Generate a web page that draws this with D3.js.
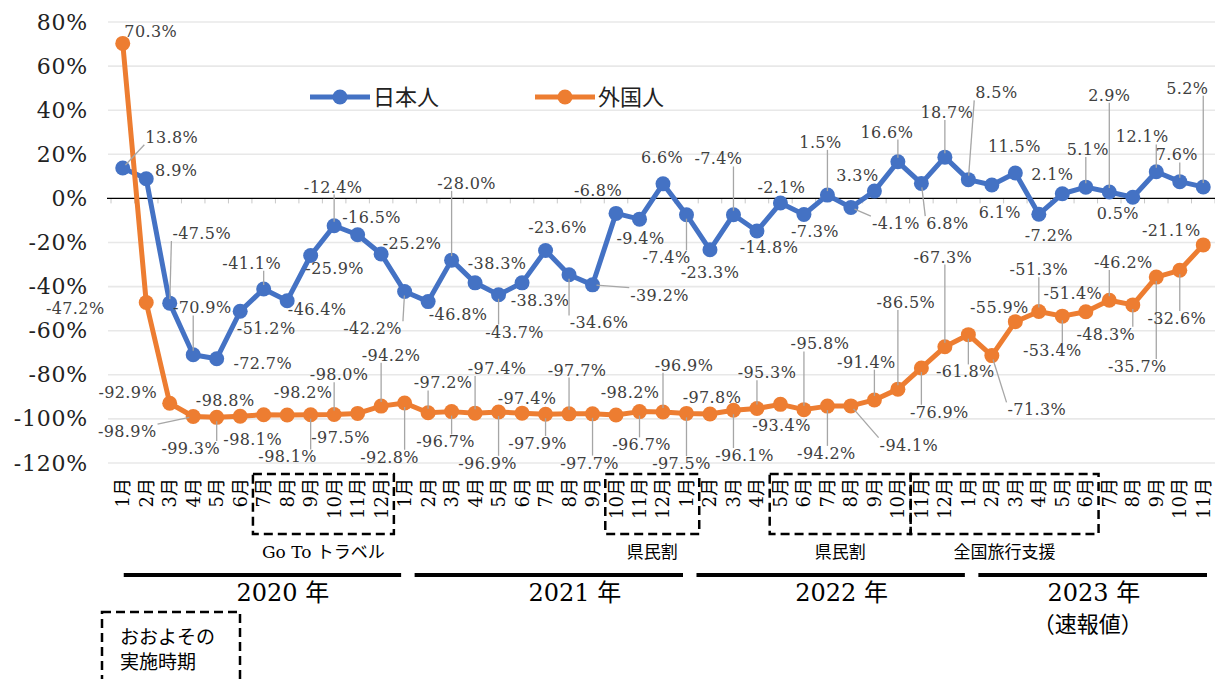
<!DOCTYPE html>
<html>
<head>
<meta charset="utf-8">
<script src="https://cdn.jsdelivr.net/npm/d3@7"></script>
<style>
  body { margin: 0; background: #fff; }
  svg text { font-family: "DejaVu Serif", "Noto Sans CJK JP", serif; }
</style>
</head>
<body>
<script>
// months Jan 2020 .. Nov 2023
var monthLabels = [];
[12, 12, 12, 11].forEach(function(n) {
  for (var m = 1; m <= n; m++) monthLabels.push(m + "月");
});
var years = ["2020 年", "2021 年", "2022 年", "2023 年"];
var yearMonths = [12, 12, 12, 11];

// 日本人 (change vs 2019, %)
var japanese = [13.8, 8.9, -47.5, -70.9, -72.7, -51.2, -41.1, -46.4, -25.9, -12.4, -16.5, -25.2,
  -42.2, -46.8, -28.0, -38.3, -43.7, -38.3, -23.6, -34.6, -39.2, -6.8, -9.4, 6.6,
  -7.4, -23.3, -7.4, -14.8, -2.1, -7.3, 1.5, -4.1, 3.3, 16.6, 6.8, 18.7,
  8.5, 6.1, 11.5, -7.2, 2.1, 5.1, 2.9, 0.5, 12.1, 7.6, 5.2];

// 外国人
var foreign = [70.3, -47.2, -92.9, -98.9, -99.3, -98.8, -98.1, -98.2, -98.1, -98.0, -97.5, -94.2,
  -92.8, -97.2, -96.7, -97.4, -96.9, -97.4, -97.9, -97.7, -97.7, -98.2, -96.7, -96.9,
  -97.5, -97.8, -96.1, -95.3, -93.4, -95.8, -94.2, -94.1, -91.4, -86.5, -76.9, -67.3,
  -61.8, -71.3, -55.9, -51.3, -53.4, -51.4, -46.2, -48.3, -35.7, -32.6, -21.1];

var yTicks = [80, 60, 40, 20, 0, -20, -40, -60, -80, -100, -120];

// campaign periods (first month index, last month index, name)
var campaigns = [
  {from: 6, to: 11, name: "Go To トラベル"},
  {from: 21, to: 24, name: "県民割"},
  {from: 28, to: 33, name: "県民割"},
  {from: 34, to: 41, name: "全国旅行支援"}
];

// label placement (dx, dy from the point, leader line yes/no)
var jpLabelPos = [[49,-31,1],[30,-9,0],[32,-70,1],[9,-47,1],[46,5,0],[26,17,0],[-12,-26,1],[30,9,0],[24,13,0],[-1,-39,1],[14,-18,0],[31,-11,0],
  [-32,37,1],[30,13,0],[15,-77,1],[22,-20,0],[16,37,1],[18,17,0],[12,-23,0],[30,48,1],[67,10,1],[-18,-23,0],[1,19,0],[-1,-27,0],
  [-20,43,1],[0,22,0],[-15,-56,1],[12,16,0],[1,-16,0],[11,17,0],[-7,-53,1],[45,16,1],[-17,-16,0],[-11,-30,1],[26,40,1],[2,-45,1],
  [28,-87,1],[8,27,0],[-1,-27,0],[10,21,0],[-10,-20,0],[2,-38,1],[0,-97,1],[-15,16,0],[-14,-35,1],[-3,-27,1],[-16,-99,1]];
var fgLabelPos = [[28,-12,0],[-71,6,0],[-42,-11,0],[-66,15,1],[-26,31,1],[-15,-16,0],[-11,25,0],[16,-23,0],[-23,42,1],[5,-40,1],[-17,24,0],[10,-51,1],
  [-15,54,1],[15,-30,1],[-6,30,1],[22,-45,1],[-11,51,1],[5,-15,0],[-8,29,1],[8,-44,1],[-3,49,1],[14,-23,0],[2,33,1],[21,-47,1],
  [-5,50,1],[2,-17,0],[11,45,1],[10,-36,1],[1,21,0],[16,-66,1],[-1,47,1],[58,39,1],[-8,-38,1],[8,-87,1],[18,44,1],[-2,-90,1],
  [-3,37,1],[45,54,1],[-16,-14,0],[0,-42,1],[-10,34,1],[-13,-18,0],[14,-38,1],[-27,29,1],[-19,89,1],[-3,48,1],[-32,-15,0]];

var W = 1215, H = 679;
var svg = d3.select("body").append("svg").attr("width", W).attr("height", H);

var x = d3.scaleBand().domain(d3.range(japanese.length)).range([111, 1215]);
var step = x.step();
var cx = function(i) { return x(i) + x.bandwidth() / 2; };
var y = d3.scaleLinear().domain([-120, 80]).range([463, 22]);

// gridlines
svg.append("g").selectAll("line").data(yTicks.filter(function(d) { return d !== 0; }))
  .enter().append("line")
  .attr("x1", 108).attr("x2", W)
  .attr("y1", function(d) { return y(d); }).attr("y2", function(d) { return y(d); })
  .attr("stroke", "#e8e8e8").attr("stroke-width", 1.6);

// y axis labels
var yAxis = svg.append("g").attr("transform", "translate(111,0)")
  .call(d3.axisLeft(y).tickValues(yTicks).tickFormat(function(d) { return d + "%"; }).tickSize(0).tickPadding(23));
yAxis.select(".domain").remove();
yAxis.selectAll("text").style("font-size", "22px").attr("fill", "#222").style("letter-spacing", "0.8px");

// zero line with boundary ticks
var zero = svg.append("g");
zero.selectAll("line.tk").data(d3.range(japanese.length + 1)).enter().append("line")
  .attr("class", "tk")
  .attr("x1", function(i) { return 111 + i * step; }).attr("x2", function(i) { return 111 + i * step; })
  .attr("y1", y(0)).attr("y2", y(0) + 5)
  .attr("stroke", "#c8c8c8").attr("stroke-width", 1);
zero.append("line").attr("x1", 107).attr("x2", W).attr("y1", y(0)).attr("y2", y(0))
  .attr("stroke", "#000").attr("stroke-width", 1.2);

// month labels (vertical)
var xAxis = svg.append("g").attr("transform", "translate(0,476)")
  .call(d3.axisBottom(x).tickSize(0).tickFormat(function(i) { return monthLabels[i]; }));
xAxis.select(".domain").remove();
xAxis.selectAll("text")
  .attr("x", -2).attr("y", 0).attr("dy", "0.36em")
  .attr("transform", "rotate(-90)")
  .style("text-anchor", "end").style("font-size", "18px").attr("fill", "#000");

// campaign boxes
campaigns.forEach(function(c) {
  var x0 = x(c.from) + 1, x1 = x(c.to) + step + 1;
  svg.append("rect").attr("x", x0).attr("y", 474).attr("width", x1 - x0).attr("height", 60)
    .attr("fill", "none").attr("stroke", "#000").attr("stroke-width", 2.5).attr("stroke-dasharray", "9,5");
  svg.append("text").attr("x", (x0 + x1) / 2).attr("y", 558).attr("text-anchor", "middle")
    .style("font-size", "17px").text(c.name);
});

// year bars
var yearLabelShift = [31, 41, 26, 8];
var start = 0;
years.forEach(function(yr, k) {
  var n = yearMonths[k];
  var a = cx(start) + (k === 0 ? 1 : 10);
  var b = Math.min(cx(start + n - 1) + 20, 1207);
  svg.append("line").attr("x1", a).attr("x2", b).attr("y1", 575).attr("y2", 575)
    .attr("stroke", "#000").attr("stroke-width", 4);
  var mid = (cx(start) + cx(start + n - 1)) / 2 + yearLabelShift[k];
  svg.append("text").attr("x", mid).attr("y", 601).attr("text-anchor", "middle")
    .style("font-size", "24px").text(yr);
  if (k === 3) {
    svg.append("text").attr("x", mid - 6).attr("y", 632).attr("text-anchor", "middle")
      .style("font-size", "22px").text("（速報値）");
  }
  start += n;
});

// note box
svg.append("rect").attr("x", 102).attr("y", 612).attr("width", 138).attr("height", 80)
  .attr("fill", "none").attr("stroke", "#000").attr("stroke-width", 2.5).attr("stroke-dasharray", "9,5");
svg.append("text").attr("x", 120).attr("y", 644).style("font-size", "19px").text("おおよその");
svg.append("text").attr("x", 120).attr("y", 669).style("font-size", "19px").text("実施時期");

// series
var series = [
  {name: "日本人", values: japanese, color: "#4472C4", pos: jpLabelPos},
  {name: "外国人", values: foreign, color: "#ED7D31", pos: fgLabelPos}
];
var line = d3.line().x(function(d, i) { return cx(i); }).y(function(d) { return y(d); });

series.forEach(function(s) {
  svg.append("path").datum(s.values).attr("d", line)
    .attr("fill", "none").attr("stroke", s.color).attr("stroke-width", 5).attr("stroke-linejoin", "round");
  svg.append("g").selectAll("circle").data(s.values).enter().append("circle")
    .attr("cx", function(d, i) { return cx(i); }).attr("cy", function(d) { return y(d); })
    .attr("r", 7.5).attr("fill", s.color);
});

// data labels + leader lines
var labelLayer = svg.append("g");
series.forEach(function(s) {
  s.values.forEach(function(v, i) {
    var px = cx(i), py = y(v), p = s.pos[i];
    var t = labelLayer.append("text")
      .attr("x", px + p[0]).attr("y", py + p[1]).attr("dy", "0.36em")
      .attr("text-anchor", "middle").attr("fill", "#404040")
      .style("font-size", "16px").style("letter-spacing", "0.4px")
      .text(v.toFixed(1) + "%");
    if (p[2]) {
      var bb = t.node().getBBox();
      var lx = Math.max(bb.x - 1, Math.min(px, bb.x + bb.width + 1));
      var ly = Math.max(bb.y + 2, Math.min(py, bb.y + bb.height - 2));
      // stop the leader at the marker's edge
      var dx = lx - px, dy = ly - py, len = Math.sqrt(dx * dx + dy * dy) || 1;
      labelLayer.append("line").attr("x1", lx).attr("y1", ly)
        .attr("x2", px + dx / len * 4).attr("y2", py + dy / len * 4)
        .attr("stroke", "#a6a6a6").attr("stroke-width", 1.3);
    }
  });
});

// legend
var legend = svg.append("g");
[{x: 310, s: series[0]}, {x: 535, s: series[1]}].forEach(function(l) {
  legend.append("line").attr("x1", l.x).attr("x2", l.x + 60).attr("y1", 97).attr("y2", 97)
    .attr("stroke", l.s.color).attr("stroke-width", 5);
  legend.append("circle").attr("cx", l.x + 30).attr("cy", 97).attr("r", 7.5).attr("fill", l.s.color);
  legend.append("text").attr("x", l.x + 63).attr("y", 97).attr("dy", "0.36em")
    .style("font-size", "22px").attr("fill", "#222").text(l.s.name);
});
</script>
</body>
</html>
